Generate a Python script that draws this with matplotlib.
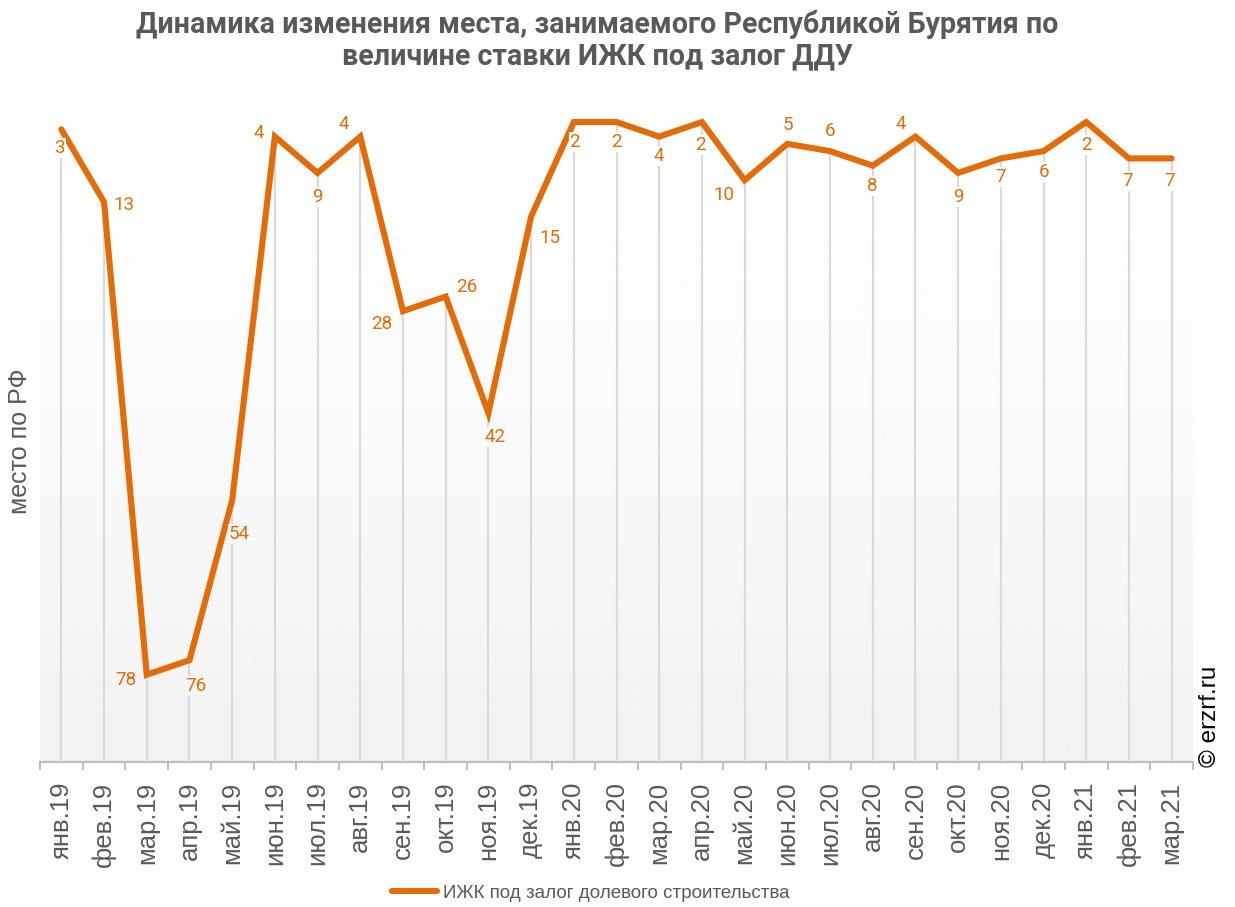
import numpy as np
import matplotlib
matplotlib.use("Agg")
import matplotlib.pyplot as plt

months = ["янв.19", "фев.19", "мар.19", "апр.19", "май.19", "июн.19", "июл.19",
          "авг.19", "сен.19", "окт.19", "ноя.19", "дек.19", "янв.20", "фев.20",
          "мар.20", "апр.20", "май.20", "июн.20", "июл.20", "авг.20", "сен.20",
          "окт.20", "ноя.20", "дек.20", "янв.21", "фев.21", "мар.21"]
places = [3, 13, 78, 76, 54, 4, 9, 4, 28, 26, 42, 15, 2, 2, 4, 2, 10, 5, 6, 8, 4,
          9, 7, 6, 2, 7, 7]
series_name = "ИЖК под залог долевого строительства"

# where each value label sits relative to its point (pixels, screen y down)
label_offsets = [(-2, 19), (20, 3), (-21, 5), (6, 26), (7, 34), (-16, -4), (0, 24),
                 (-16, -13), (-21, 13), (21, -10), (7, 24), (19, 21), (1, 20),
                 (0, 20), (0, 19), (-1, 23), (-21, 15), (0, -19), (0, -20), (0, 20),
                 (-15, -13), (0, 24), (0, 19), (1, 21), (0, 23), (-1, 23), (-2, 23)]

ORANGE = "#E36C09"
GRAY_TXT = "#595959"
SANS = "Liberation Sans"
Y_MAX = 90

fig = plt.figure(figsize=(12.35, 9.07), dpi=100)
ax = fig.add_axes([40 / 1235, 145 / 907, 1153 / 1235, 654.5 / 907])

x = np.arange(len(months))

# background: white at the top fading to light gray at the bottom
def bg_level(v):
    t = np.clip((v - 11.4) / (Y_MAX - 11.4), 0, 1)
    return 1.0 - t * (13 / 255)

yy = np.linspace(0, Y_MAX, 400)
grad = bg_level(yy)[:, None]
ax.imshow(grad, extent=(-0.5, len(months) - 0.5, Y_MAX, 0), aspect="auto",
          cmap="gray", vmin=0, vmax=1, zorder=0, interpolation="bilinear")

# drop lines from each point to the axis
ax.vlines(x, places, Y_MAX, color="#dadada", linewidth=1.6, zorder=1)
ax.plot(x, places, color=ORANGE, linewidth=4.4, solid_joinstyle="miter",
        solid_capstyle="round", zorder=3, label=series_name)

for xi, v, (dx, dy) in zip(x, places, label_offsets):
    lvl = bg_level(v + dy / 7.263)
    ax.annotate(str(v), (xi, v), xytext=(dx, -dy), textcoords="offset pixels",
                ha="center", va="center", fontsize=13.5, family="Roboto",
                color=ORANGE, zorder=4,
                bbox=dict(boxstyle="square,pad=0.05", fc=(lvl, lvl, lvl),
                          ec="none"))

ax.set_xlim(-0.5, len(months) - 0.5)
ax.set_ylim(Y_MAX, 0)

for s in ["top", "right", "left"]:
    ax.spines[s].set_visible(False)
ax.spines["bottom"].set_color("#bfbfbf")
ax.spines["bottom"].set_linewidth(1.6)
ax.set_yticks([])

# tick marks between categories, labels under the categories
ax.set_xticks(np.arange(-0.5, len(months), 1.0))
ax.set_xticklabels([])
ax.tick_params(axis="x", which="major", length=6, width=1.4, color="#bfbfbf")
ax.set_xticks(x, minor=True)
ax.set_xticklabels(months, minor=True, rotation=90, fontsize=18.5,
                   family=SANS, color=GRAY_TXT)
ax.tick_params(axis="x", which="minor", length=0, pad=14)

fig.text(597 / 1235, 1 - 40 / 907,
         "Динамика изменения места, занимаемого Республикой Бурятия по\n"
         "величине ставки ИЖК под залог ДДУ",
         ha="center", va="center", fontsize=20.6, family="Roboto",
         fontweight="bold", color=GRAY_TXT, linespacing=1.15)

fig.text(20 / 1235, 1 - 441 / 907, "место по РФ", rotation=90, ha="center",
         va="center", fontsize=18, family=SANS, color=GRAY_TXT)

fig.text(1210 / 1235, 1 - 716 / 907, "© erzrf.ru", rotation=90, ha="center",
         va="center", fontsize=17.5, family=SANS, color="black")

fig.legend(loc="center", bbox_to_anchor=(591 / 1235, 1 - 893 / 907),
           frameon=False, handlelength=2.4, handletextpad=0.3,
           prop={"family": SANS, "size": 13.5}, labelcolor=GRAY_TXT)

fig.savefig("out.png", dpi=100)
